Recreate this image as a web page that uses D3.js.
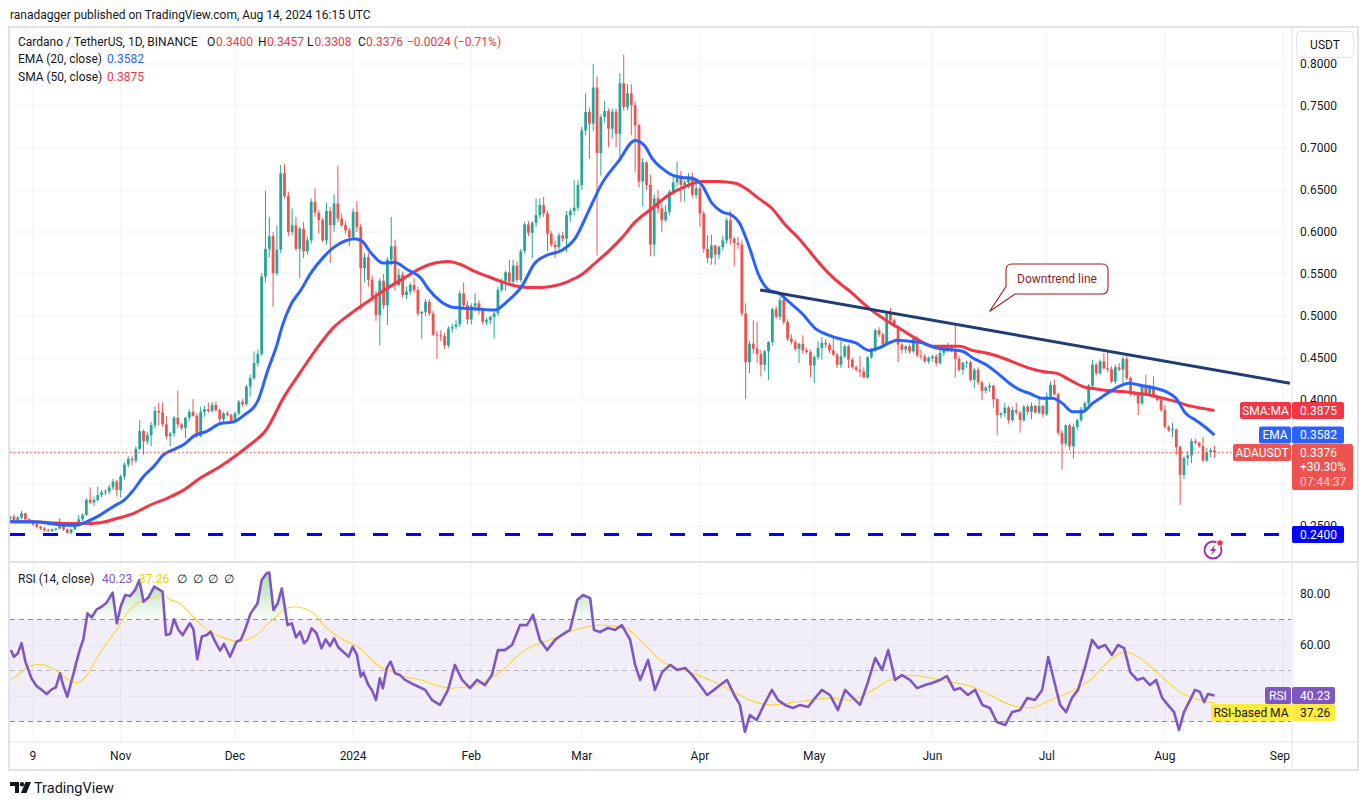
<!DOCTYPE html>
<html><head><meta charset="utf-8">
<script src="https://cdn.jsdelivr.net/npm/d3@7"></script>
<style>
html,body{margin:0;padding:0;background:#fff;overflow:hidden;}
svg{display:block;}
</style></head><body>
<svg id="c" width="1368" height="805"></svg>
<script>
// ---------------- DATA ----------------
const startDate = "2023-10-03"; // first daily candle
const opens = [
.259,.261,.257,.260,.265,.258,.256,.252,.249,.247,
.245,.244,.246,.247,.253,.246,.242,.246,.252,.258,
.263,.281,.278,.281,.287,.290,.291,.296,.303,.293,
.309,.323,.330,.328,.342,.363,.351,.358,.370,.387,
.385,.371,.357,.360,.379,.371,.367,.379,.386,.381,
.357,.386,.389,.387,.394,.388,.377,.384,.382,.375,
.384,.398,.395,.416,.426,.444,.455,.547,.580,.595,
.551,.579,.670,.643,.600,.608,.580,.604,.577,.590,
.636,.623,.614,.590,.625,.608,.634,.616,.608,.602,
.594,.624,.606,.557,.570,.543,.523,.501,.542,.513,
.567,.583,.537,.549,.525,.529,.537,.531,.503,.505,
.517,.503,.478,.477,.476,.465,.485,.487,.490,.527,
.513,.496,.512,.515,.506,.493,.495,.499,.503,.531,
.542,.552,.541,.560,.543,.577,.609,.599,.611,.620,
.632,.622,.598,.585,.582,.596,.592,.620,.625,.629,
.656,.721,.743,.729,.772,.694,.737,.744,.723,.743,
.717,.777,.749,.765,.751,.727,.660,.683,.656,.585,
.640,.628,.614,.624,.648,.659,.667,.656,.659,.666,
.644,.652,.622,.580,.569,.584,.573,.582,.590,.614,
.592,.587,.585,.503,.445,.467,.461,.455,.442,.458,
.469,.508,.499,.519,.493,.473,.469,.461,.467,.459,
.457,.441,.451,.462,.468,.466,.459,.454,.442,.452,
.464,.448,.439,.436,.434,.427,.451,.460,.483,.478,
.467,.503,.495,.487,.466,.460,.464,.458,.473,.453,
.452,.446,.450,.452,.444,.456,.463,.464,.458,.449,
.436,.444,.445,.424,.436,.421,.411,.415,.417,.401,
.382,.384,.391,.376,.388,.385,.376,.392,.386,.393,
.385,.393,.383,.404,.418,.407,.361,.348,.370,.345,
.368,.376,.389,.396,.417,.442,.432,.446,.438,.437,
.422,.439,.436,.449,.426,.408,.407,.396,.418,.408,
.415,.404,.400,.388,.368,.364,.365,.344,.311,.331,
.334,.351,.349,.345,.328,.338,.3400];
const highs = [
.263,.264,.262,.268,.266,.259,.257,.254,.250,.249,
.247,.247,.248,.259,.254,.247,.247,.254,.263,.265,
.283,.296,.285,.297,.293,.294,.299,.306,.305,.311,
.326,.333,.333,.345,.376,.365,.362,.374,.392,.397,
.397,.381,.362,.381,.411,.373,.380,.389,.401,.384,
.392,.393,.397,.398,.398,.390,.386,.387,.384,.386,
.400,.401,.418,.430,.458,.460,.551,.649,.618,.600,
.608,.680,.681,.648,.628,.618,.606,.612,.594,.640,
.652,.626,.617,.635,.630,.645,.679,.622,.613,.605,
.628,.637,.610,.575,.575,.548,.530,.545,.550,.570,
.618,.591,.556,.553,.535,.540,.545,.535,.506,.520,
.520,.506,.482,.483,.480,.488,.491,.495,.530,.540,
.518,.515,.527,.519,.510,.498,.500,.505,.535,.545,
.554,.567,.567,.565,.580,.612,.613,.613,.640,.640,
.642,.625,.601,.590,.599,.600,.625,.628,.662,.662,
.725,.765,.748,.800,.785,.740,.756,.747,.747,.747,
.789,.811,.776,.776,.755,.729,.688,.684,.668,.645,
.650,.634,.632,.650,.668,.684,.673,.662,.670,.671,
.658,.655,.625,.596,.597,.585,.584,.596,.617,.625,
.594,.594,.590,.515,.470,.495,.493,.460,.460,.470,
.510,.512,.523,.523,.496,.478,.472,.468,.477,.462,
.460,.453,.470,.475,.472,.468,.475,.456,.470,.466,
.466,.450,.441,.452,.439,.452,.462,.485,.487,.480,
.505,.510,.497,.489,.468,.465,.466,.476,.476,.460,
.455,.452,.454,.455,.460,.466,.468,.466,.491,.452,
.446,.447,.447,.438,.439,.423,.416,.420,.418,.402,
.386,.397,.393,.392,.397,.387,.394,.395,.397,.394,
.404,.394,.409,.422,.424,.409,.364,.371,.372,.372,
.378,.392,.398,.419,.448,.444,.448,.456,.458,.440,
.442,.444,.452,.452,.428,.411,.410,.419,.430,.418,
.428,.406,.402,.394,.370,.373,.366,.346,.333,.339,
.354,.354,.350,.356,.343,.343,.3457];
const lows = [
.255,.255,.255,.258,.256,.254,.250,.247,.245,.243,
.243,.243,.244,.246,.244,.241,.240,.245,.251,.256,
.262,.276,.274,.279,.284,.287,.288,.293,.285,.284,
.305,.320,.322,.325,.340,.335,.347,.345,.366,.370,
.368,.353,.345,.356,.367,.364,.355,.375,.380,.355,
.356,.380,.385,.385,.386,.373,.374,.380,.372,.374,
.382,.392,.393,.404,.424,.440,.452,.540,.570,.511,
.548,.575,.640,.595,.596,.578,.545,.569,.573,.586,
.618,.598,.588,.585,.563,.600,.612,.606,.598,.583,
.590,.600,.507,.540,.535,.518,.494,.465,.508,.489,
.560,.530,.535,.522,.520,.525,.528,.500,.473,.500,
.500,.476,.449,.470,.461,.462,.480,.484,.487,.510,
.490,.490,.505,.502,.490,.489,.490,.473,.500,.528,
.530,.538,.538,.540,.540,.574,.595,.569,.606,.616,
.618,.577,.582,.569,.578,.588,.576,.612,.620,.625,
.650,.715,.687,.720,.572,.667,.730,.701,.711,.701,
.686,.745,.745,.715,.671,.653,.630,.650,.571,.571,
.622,.600,.612,.620,.645,.655,.636,.636,.652,.641,
.640,.606,.575,.563,.561,.561,.568,.578,.586,.585,
.559,.580,.500,.401,.432,.455,.444,.428,.434,.424,
.465,.497,.495,.490,.470,.466,.458,.444,.455,.455,
.427,.420,.448,.448,.462,.456,.452,.438,.438,.450,
.438,.437,.434,.427,.426,.425,.449,.457,.475,.463,
.465,.493,.486,.445,.455,.456,.455,.456,.451,.448,
.444,.443,.446,.440,.442,.452,.457,.457,.427,.434,
.430,.438,.422,.414,.418,.400,.408,.410,.391,.358,
.378,.380,.372,.374,.383,.361,.374,.382,.377,.384,
.383,.379,.381,.402,.405,.358,.317,.345,.340,.330,
.364,.374,.386,.394,.415,.430,.430,.436,.433,.420,
.419,.434,.418,.424,.405,.405,.382,.394,.405,.404,
.402,.398,.386,.366,.362,.356,.335,.275,.306,.322,
.325,.347,.343,.326,.326,.332,.3308];
const closes = [
.261,.257,.260,.265,.258,.256,.252,.249,.247,.245,
.244,.246,.247,.253,.246,.242,.246,.252,.258,.263,
.281,.278,.281,.287,.290,.291,.296,.303,.293,.309,
.323,.330,.328,.342,.363,.351,.358,.370,.387,.385,
.371,.357,.360,.379,.371,.367,.379,.386,.381,.357,
.386,.389,.387,.394,.388,.377,.384,.382,.375,.384,
.398,.395,.416,.426,.444,.455,.547,.580,.595,.551,
.579,.670,.643,.600,.608,.580,.604,.577,.590,.636,
.623,.614,.590,.625,.608,.634,.616,.608,.602,.594,
.624,.606,.557,.570,.543,.523,.501,.542,.513,.567,
.583,.537,.549,.525,.529,.537,.531,.503,.505,.517,
.503,.478,.477,.476,.465,.485,.487,.490,.527,.513,
.496,.512,.515,.506,.493,.495,.499,.503,.531,.542,
.552,.541,.560,.543,.577,.609,.599,.611,.620,.632,
.622,.598,.585,.582,.596,.592,.620,.625,.629,.656,
.721,.743,.729,.772,.694,.737,.744,.723,.743,.717,
.777,.749,.765,.751,.727,.660,.683,.656,.585,.640,
.628,.614,.624,.648,.659,.667,.656,.659,.666,.644,
.652,.622,.580,.569,.584,.573,.582,.590,.614,.592,
.587,.585,.503,.445,.467,.461,.455,.442,.458,.469,
.508,.499,.519,.493,.473,.469,.461,.467,.459,.457,
.441,.451,.462,.468,.466,.459,.454,.442,.452,.464,
.448,.439,.436,.434,.427,.451,.460,.483,.478,.467,
.503,.495,.487,.466,.460,.464,.458,.473,.453,.452,
.446,.450,.452,.444,.456,.463,.464,.458,.449,.436,
.444,.445,.424,.436,.421,.411,.415,.417,.401,.382,
.384,.391,.376,.388,.385,.376,.392,.386,.393,.385,
.393,.383,.404,.418,.407,.361,.348,.370,.345,.368,
.376,.389,.396,.417,.442,.432,.446,.438,.437,.422,
.439,.436,.449,.426,.408,.407,.396,.418,.408,.415,
.404,.400,.388,.368,.364,.365,.344,.311,.331,.334,
.351,.349,.345,.328,.338,.340,.3376];

// EMA(20) and SMA(50) (day offset from startDate, value)
const emaDays = [0,6,10.5,15,17.5,20,23.6,27,30,32.4,35,37.7,40.3,42.9,45.6,48.2,51.7,55.2,58.7,61.4,64.9,67.5,70.1,71.4,73.6,76.3,78.9,82.4,85,87.7,90.3,92.1,94.7,97.8,100.8,104.3,107.8,109.6,113.1,116.6,120.1,123.6,127.1,130.6,134.2,137.7,141.2,144.7,148.2,151.7,155.2,159.6,164,166.6,168.4,171,173.6,176.3,178.9,181.5,184.2,186.8,189.4,191.2,193.8,196.4,199.1,201.7,204.3,207.8,211.3,214.9,218.4,221.9,225.4,228,230.6,232.8,235.9,239.4,242.9,246.4,249.9,252.6,256.1,259.6,262.2,265,267.4,270.9,273.5,276.1,278.8,281.4,284,286.6,289.3,291.9,293.6,297.1,300.6,303.3,305.9,308.5,311.1,313.8,316];
const emaValues = [.255,.255,.253,.251,.251,.255,.263,.273,.281,.293,.309,.321,.335,.341,.347,.357,.363,.372,.374,.382,.398,.434,.467,.488,.513,.531,.551,.571,.582,.589,.592,.590,.575,.563,.564,.555,.545,.533,.517,.510,.509,.508,.507,.518,.535,.563,.573,.578,.592,.624,.657,.684,.709,.702,.688,.676,.668,.665,.664,.656,.634,.624,.620,.612,.584,.549,.531,.527,.517,.503,.485,.477,.472,.468,.459,.462,.468,.471,.470,.468,.462,.460,.458,.450,.442,.430,.420,.412,.408,.402,.402,.396,.386,.386,.396,.404,.412,.418,.420,.417,.414,.410,.402,.384,.376,.367,.3582];
const smaDays = [0,6,10.5,15,19.2,23.6,28,32.4,36.8,41.2,45.6,49.9,55.2,59,63,67.1,71.9,76.3,80.7,85,89.4,93.8,98.2,102.6,107.8,111.4,114.9,118.4,121.9,125.4,128.9,132.4,135.9,139.4,142.9,146.4,149.9,153.5,157,160.5,164,168.4,172.8,177.1,181.5,185.9,190.3,192.9,196.4,199.9,203.5,207,210.5,213.1,216.6,221,225.4,229.8,234.2,238.5,242,245.6,249.1,252.6,257,260.4,263.9,267.4,270.9,274.5,278,281.5,285,288.5,292,295.5,299,302.5,306,309.5,313,316];
const smaValues = [.255,.255,.254,.253,.253,.254,.259,.265,.275,.283,.293,.307,.321,.333,.347,.364,.404,.434,.463,.487,.503,.517,.531,.543,.557,.563,.565,.561,.553,.547,.541,.536,.534,.534,.536,.541,.549,.563,.577,.593,.612,.628,.644,.654,.660,.660,.658,.652,.640,.628,.608,.592,.573,.559,.543,.527,.509,.495,.483,.471,.464,.464,.464,.459,.455,.450,.444,.438,.434,.432,.424,.416,.413,.411,.410,.408,.406,.402,.398,.393,.390,.3875];

// RSI(14) and its MA
const rsiDays = [0.2,1,2,3,4,5.6,6.9,8.3,9.6,10.9,12,13.1,13.9,15,16.2,17.3,18.3,19.2,20.3,21.4,22.7,24,25.3,26.9,28,29,30.2,31.5,32.8,33.9,35,36.3,37.8,39,40,40.9,42,43,44.2,45.3,46.3,47.2,48.1,49.1,50.3,51.6,52.6,53.8,55.1,56.1,57.7,59.4,60.5,61.6,63.1,64.9,66,67.3,68,69.1,70.2,71.3,72.8,73.9,75,76.1,77.1,78,79.1,80.4,81.7,82.8,83.9,85,86.1,87.9,88.8,89.9,91,92,92.7,94,94.9,96,97,97.8,98.8,99.8,101,102.3,103.6,106.2,108.9,110.7,112.8,114.9,116.7,118.6,120.7,122.5,124.6,126.4,128,129.8,131.7,133.8,135.6,137.2,139,140.9,143,144.8,146.9,148.8,150.3,152.2,153.2,154.8,156.9,158.7,160.5,162.7,164,165.3,167.4,169.2,171.1,173.2,175,177.1,179,181,182.9,184.7,186.3,188.1,190,191.5,192.8,194.1,195.9,197.8,199.9,201.5,203.3,205.4,207.3,209.4,211.2,213,215.1,217.2,219.1,221.2,223,225.1,227,228.8,230.4,232.2,234,236.1,238,240.1,241.9,244,245.8,247.7,249.3,251.3,253.2,255.1,257.1,258.9,261.1,262.9,265,266.9,268.9,270.8,272.4,274.2,275.5,277.1,278.6,280.2,282,283.9,285.5,287.3,289.1,290.7,292.3,293.9,295.7,297.3,299.1,300.7,302.3,303.8,305.4,306.7,308,309.6,310.9,312.2,313.3,314.3,316];
const rsiValues = [58.0,55.4,56.7,60.7,53.5,46.9,43.9,42.4,40.8,42.6,43.4,48.9,44.3,39.7,46.3,52.8,58.3,62.2,72.4,70.8,74,75,76.6,80.5,68.5,75,79.6,79.2,81.6,85.5,77,78.7,82.9,81.8,80.9,63.9,64.3,70.1,65.9,63.9,66.5,68.5,66.1,54.4,63.3,63.9,65.2,61.3,57.8,60.4,55.4,61.3,62,65.9,72.4,76.3,85.5,88.1,88.4,73.7,76.3,82.2,67.8,68.5,63,65.2,60.7,62,66.5,64.6,58.7,62.2,59.6,62.6,59.1,56.7,55.4,59.3,56.1,47.6,49.2,44.3,42.4,38.4,46.9,43,50.8,53.5,48.9,48.2,46.3,44.3,42.4,38.4,36.5,42.4,52.2,46.3,43.1,46.3,44.3,48.2,58,58,60,67.8,67.8,71.8,62,58,62,64,65.9,77.6,79.6,78.4,65.9,65.1,66.7,65.9,67.8,62,52.2,46.3,54.1,42.4,49.4,52.2,50.2,51,48.2,44.3,40.4,42.4,44.3,46.3,40.4,36.5,25.9,32.5,30.6,36.5,42.4,38.4,36.5,35.3,36.5,35.7,39.2,42.4,40.4,34.5,42.4,39.2,36.5,45.5,54.9,50.2,58,46.3,48.2,46.3,43.1,44.3,45.1,46.3,47.8,42.4,43.1,40.4,42.4,36.5,35.3,29.8,28.6,33.7,34.5,39.2,38.4,42.4,55.3,44.3,36.5,33.7,39.2,42.4,51,62,58.8,60,56.1,60,58.8,49.4,46.3,47.1,44.3,46.3,39.2,36.5,33.7,26.7,33.7,38.4,42.4,41.6,37.6,40.8,40.23];
const rsiMaDays = [0.2,2.6,5.2,7.8,10.5,13.1,15.7,17.5,20.2,22.7,25.3,28,30.6,33.2,35.8,38.5,40.2,41.9,44.6,47.2,49.8,52.5,55.1,57.7,60.3,62.1,64.7,67.3,70,72.6,75.2,77,79.6,82.2,84.8,87.4,90,92.7,95.3,97.9,100.6,102.3,107.6,115.5,122,128.6,135.1,141.7,148.2,154.8,161.3,165.3,170.5,178.4,183.6,188.9,194.1,199.4,204.6,209.9,215.1,220.4,225.6,230.9,236.1,241.4,246.6,251.9,257.1,262.4,267.6,272.9,278.1,283.4,288.6,292.6,296.5,301.7,307,312.2,316];
const rsiMaValues = [46.3,48.9,51.8,52.4,51.2,48.9,46,45.2,48.2,54.8,60.7,65.9,72.4,76.3,77.9,79,79.6,77.9,76.3,72.4,68.5,65.2,63.3,62,61.3,62,63.9,67.8,71.4,74.4,75,74.4,72.4,67.8,64.6,62,60.4,57.4,53.5,50.8,49.5,48.2,46.3,43.1,44.3,49.4,58,62,65.9,67.8,66.7,62,54.1,49.4,46.3,42.4,38.4,36.5,37.3,38.4,39.2,38.4,41.6,46.3,48.2,47.1,45.5,43.9,40.4,36.5,35.3,38.4,41.6,46.3,54.1,57.3,54.9,48.2,41.6,38.4,37.26];

// annotations
const trendDays = [196.8, 335.8];
const trendPrices = [0.531, 0.420];
const supportPrice = 0.24;
const priceTicks = [0.80,0.75,0.70,0.65,0.60,0.55,0.50,0.45,0.40,0.35,0.30,0.25];
const hiddenPriceLabels = [0.35, 0.30]; // fully covered by the price tags in the original
const rsiTicks = [80,60,40];
const rsiLabelTicks = [80,60];
const rsiLevels = [70,50,30];
const tickDates = ["2023-10-09","2023-11-01","2023-12-01","2024-01-01","2024-02-01","2024-03-01","2024-04-01","2024-05-01","2024-06-01","2024-07-01","2024-08-01","2024-09-01"];
const tickLabels = ["9","Nov","Dec","2024","Feb","Mar","Apr","May","Jun","Jul","Aug","Sep"];
const lastEma = 0.3582, lastSma = 0.3875, lastRsi = 40.23, lastRsiMa = 37.26;

// ---------------- DRAW ----------------
const FONT = "Roboto, 'Noto Sans', Arial, sans-serif";
const TXT = "#131722", UP = "#26a69a", DN = "#ef5350", GRID = "#f0f3fa", BORDER = "#e0e3eb";
const svg = d3.select("#c").style("font-family", FONT);
const x = d3.scaleLinear().domain([-0.034, 335.83]).range([10, 1290]);
const y = d3.scaleLinear().domain([0.25, 0.80]).range([526, 64]);
const ry = d3.scaleLinear().domain([30, 80]).range([721.5, 594]);
const PL = 10, PR = 1291, MT = 28, MB = 561, RT = 563, RB = 741, AB = 770, FR = 1357;

svg.append("rect").attr("width", 1368).attr("height", 805).attr("fill", "#fff");
const defs = svg.append("defs");
const clip = (id, x0, y0, w, h) => defs.append("clipPath").attr("id", id).append("rect").attr("x", x0).attr("y", y0).attr("width", w).attr("height", h);
clip("cm", PL, MT, PR - PL, MB - MT);
clip("cr", PL, RT, PR - PL, RB - RT);
clip("cob", PL, RT, PR - PL, ry(70) - RT);
clip("cos", PL, ry(30), PR - PL, RB - ry(30));
// price-axis labels are visible only where no price tag covers them
const cax = defs.append("clipPath").attr("id", "cax");
cax.append("rect").attr("x", 1293).attr("y", 59).attr("width", 64).attr("height", y(lastSma) - 8.5 - 59);
cax.append("rect").attr("x", 1293).attr("y", y(0.3376) + 37.5).attr("width", 64).attr("height", y(supportPrice) - 8.5 - (y(0.3376) + 37.5));
const gOB = defs.append("linearGradient").attr("id", "gob").attr("gradientUnits", "userSpaceOnUse").attr("x1", 0).attr("x2", 0).attr("y1", ry(90)).attr("y2", ry(70));
gOB.append("stop").attr("offset", 0).attr("stop-color", "rgb(76,175,80)").attr("stop-opacity", 0.5);
gOB.append("stop").attr("offset", 1).attr("stop-color", "rgb(76,175,80)").attr("stop-opacity", 0.02);
const gOS = defs.append("linearGradient").attr("id", "gos").attr("gradientUnits", "userSpaceOnUse").attr("x1", 0).attr("x2", 0).attr("y1", ry(30)).attr("y2", ry(10));
gOS.append("stop").attr("offset", 0).attr("stop-color", "rgb(242,54,69)").attr("stop-opacity", 0.02);
gOS.append("stop").attr("offset", 1).attr("stop-color", "rgb(242,54,69)").attr("stop-opacity", 0.5);

// header
svg.append("text").attr("x", 10).attr("y", 19).attr("font-size", 12).attr("fill", TXT)
  .text("ranadagger published on TradingView.com, Aug 14, 2024 16:15 UTC");

// grid
const t0 = new Date(startDate + "T00:00:00Z");
const tickDays = tickDates.map(s => d3.utcDay.count(t0, new Date(s + "T00:00:00Z")));
const grid = svg.append("g");
grid.selectAll("line.v").data(tickDays).join("line")
  .attr("x1", d => x(d)).attr("x2", d => x(d)).attr("y1", MT).attr("y2", RB).attr("stroke", GRID);
grid.selectAll("line.h").data(priceTicks).join("line")
  .attr("x1", PL).attr("x2", PR).attr("y1", d => y(d)).attr("y2", d => y(d)).attr("stroke", GRID);
grid.selectAll("line.r").data(rsiTicks).join("line")
  .attr("x1", PL).attr("x2", PR).attr("y1", d => ry(d)).attr("y2", d => ry(d)).attr("stroke", GRID);

// frame and separators
svg.append("rect").attr("x", 9).attr("y", 27).attr("width", FR - 9 + 1).attr("height", AB - 27)
  .attr("fill", "none").attr("stroke", BORDER).attr("stroke-width", 2);
svg.append("line").attr("x1", 1292).attr("x2", 1292).attr("y1", 27).attr("y2", AB).attr("stroke", BORDER);
svg.append("line").attr("x1", 9).attr("x2", FR + 1).attr("y1", 562).attr("y2", 562).attr("stroke", BORDER).attr("stroke-width", 2);
svg.append("line").attr("x1", 9).attr("x2", FR + 1).attr("y1", 742).attr("y2", 742).attr("stroke", BORDER);

// ---- main pane ----
const gm = svg.append("g").attr("clip-path", "url(#cm)");
const candles = closes.map((c, i) => ({ i, o: opens[i], h: highs[i], l: lows[i], c }));
const col = d => d.c >= d.o ? UP : DN;
gm.selectAll("line.w").data(candles).join("line")
  .attr("x1", d => x(d.i)).attr("x2", d => x(d.i))
  .attr("y1", d => y(d.h)).attr("y2", d => y(d.l))
  .attr("stroke", col).attr("stroke-width", 1);
gm.selectAll("rect.b").data(candles).join("rect")
  .attr("x", d => x(d.i) - 1.4).attr("width", 2.8)
  .attr("y", d => y(Math.max(d.o, d.c)))
  .attr("height", d => Math.max(1, Math.abs(y(d.o) - y(d.c))))
  .attr("fill", col);

const lineXY = (days, vals, ys) => d3.line().curve(d3.curveMonotoneX).x((d, i) => x(days[i])).y((d, i) => ys(vals[i]))(vals);
gm.append("path").attr("d", lineXY(smaDays, smaValues, y)).attr("fill", "none").attr("stroke", "#f23645").attr("stroke-width", 3).attr("stroke-linejoin", "round");
gm.append("path").attr("d", lineXY(emaDays, emaValues, y)).attr("fill", "none").attr("stroke", "#2962ff").attr("stroke-width", 3).attr("stroke-linejoin", "round");

// last price dotted line
const lastPrice = closes[closes.length - 1];
gm.append("line").attr("x1", PL).attr("x2", 1232).attr("y1", y(lastPrice)).attr("y2", y(lastPrice))
  .attr("stroke", DN).attr("stroke-width", 1).attr("stroke-dasharray", "1.5,2.5");
// support dashed line
gm.append("line").attr("x1", PL).attr("x2", 1290).attr("y1", y(supportPrice)).attr("y2", y(supportPrice))
  .attr("stroke", "#0000ff").attr("stroke-width", 3).attr("stroke-dasharray", "15,18");
// downtrend line
gm.append("line").attr("x1", x(trendDays[0])).attr("y1", y(trendPrices[0]))
  .attr("x2", x(trendDays[1])).attr("y2", y(trendPrices[1]))
  .attr("stroke", "#1f3c73").attr("stroke-width", 3);

// callout
const cg = svg.append("g");
cg.append("path").attr("d", "M1012,264 H1102 Q1108,264 1108,270 V288 Q1108,294 1102,294 H1015 L989.5,311.5 L1006,286.5 V270 Q1006,264 1012,264 Z")
  .attr("fill", "#fff").attr("stroke", "#a11d1d").attr("stroke-width", 1.1);
cg.append("text").attr("x", 1057).attr("y", 283).attr("text-anchor", "middle").attr("font-size", 12).attr("fill", "#8e1c1c").text("Downtrend line");

// lightning icon
const ic = svg.append("g");
ic.append("circle").attr("cx", 1213).attr("cy", 550).attr("r", 8.5).attr("fill", "#fff").attr("stroke", "#9c27b0").attr("stroke-width", 1.8);
ic.append("path").attr("d", "M1215,544.5 L1210,551 L1213,551 L1211,555.5 L1216.5,549 L1213.5,549 Z").attr("fill", "#9c27b0");
ic.append("circle").attr("cx", 1220).attr("cy", 543).attr("r", 3.3).attr("fill", "#f23645").attr("stroke", "#fff").attr("stroke-width", 1);

// ---- RSI pane ----
const gr = svg.append("g").attr("clip-path", "url(#cr)");
gr.append("rect").attr("x", PL).attr("width", PR - PL).attr("y", ry(70)).attr("height", ry(30) - ry(70)).attr("fill", "rgba(126,87,194,0.1)");
gr.selectAll("line.lv").data(rsiLevels).join("line")
  .attr("x1", PL).attr("x2", PR).attr("y1", d => ry(d)).attr("y2", d => ry(d))
  .attr("stroke", "#787b86").attr("stroke-opacity", d => d === 50 ? 0.5 : 0.85)
  .attr("stroke-dasharray", "5,4");
const rsiPts = rsiValues.map((v, i) => ({ d: rsiDays[i], v }));
gr.append("path").attr("clip-path", "url(#cob)")
  .attr("d", d3.area().x(p => x(p.d)).y0(ry(70)).y1(p => ry(p.v))(rsiPts)).attr("fill", "url(#gob)");
gr.append("path").attr("clip-path", "url(#cos)")
  .attr("d", d3.area().x(p => x(p.d)).y0(ry(30)).y1(p => ry(p.v))(rsiPts)).attr("fill", "url(#gos)");
gr.append("path").attr("d", lineXY(rsiMaDays, rsiMaValues, ry)).attr("fill", "none").attr("stroke", "#fdd835").attr("stroke-width", 1.2);
gr.append("path").attr("d", d3.line().x(p => x(p.d)).y(p => ry(p.v))(rsiPts)).attr("fill", "none")
  .attr("stroke", "#7e57c2").attr("stroke-width", 2.6).attr("stroke-linejoin", "round");

// ---- legends ----
const leg = (xx, yy, s, c, fs) => svg.append("text").attr("x", xx).attr("y", yy).attr("font-size", fs || 12).attr("fill", c || TXT).text(s);
leg(18, 46, "Cardano / TetherUS, 1D, BINANCE");
const R = "#f23645";
leg(207, 46, "O"); leg(216, 46, opens[opens.length - 1].toFixed(4), R);
leg(258, 46, "H"); leg(267, 46, highs[highs.length - 1].toFixed(4), R);
leg(307, 46, "L"); leg(314.5, 46, lows[lows.length - 1].toFixed(4), R);
leg(358, 46, "C"); leg(366, 46, lastPrice.toFixed(4), R);
leg(407, 46, "\u22120.0024 (\u22120.71%)", R);
leg(18, 63, "EMA (20, close)"); leg(107, 63, lastEma.toFixed(4), "#2962ff");
leg(18, 81, "SMA (50, close)"); leg(107, 81, lastSma.toFixed(4), R);
leg(18, 583, "RSI (14, close)"); leg(102, 583, lastRsi.toFixed(2), "#7e57c2"); leg(139, 583, lastRsiMa.toFixed(2), "#f5d000");
[177, 192.5, 208, 223.5].forEach(xx => leg(xx, 583, "\u2205"));

// ---- right axis ----
const ax = svg.append("g").attr("font-size", 12).attr("fill", TXT);
ax.append("g").attr("clip-path", "url(#cax)").selectAll("text.p")
  .data(priceTicks.filter(v => !hiddenPriceLabels.includes(v))).join("text")
  .attr("x", 1300).attr("y", d => y(d)).attr("dy", "0.36em").text(d => d.toFixed(4));
ax.selectAll("text.r").data(rsiLabelTicks).join("text").attr("x", 1300).attr("y", d => ry(d)).attr("dy", "0.36em").text(d => d.toFixed(2));

// USDT button
svg.append("rect").attr("x", 1296.5).attr("y", 31.5).attr("width", 57).attr("height", 26).attr("rx", 4).attr("fill", "#fff").attr("stroke", BORDER);
svg.append("text").attr("x", 1325).attr("y", 45).attr("dy", "0.36em").attr("text-anchor", "middle").attr("font-size", 12).attr("fill", TXT).text("USDT");

// price labels
function tag(yc, name, value, bg, fg, nameW, valW, h) {
  const g = svg.append("g").attr("font-size", 12);
  h = h || 17;
  if (name) {
    g.append("rect").attr("x", 1291 - nameW).attr("y", yc - 8.5).attr("width", nameW).attr("height", 17).attr("rx", 2).attr("fill", bg);
    g.append("text").attr("x", 1291 - nameW / 2).attr("y", yc).attr("dy", "0.36em").attr("text-anchor", "middle").attr("fill", fg).text(name);
  }
  g.append("rect").attr("x", 1292).attr("y", yc - 8.5).attr("width", valW).attr("height", h).attr("rx", 2).attr("fill", bg);
  g.append("text").attr("x", 1300).attr("y", yc).attr("dy", "0.36em").attr("fill", fg).text(value);
  return g;
}
tag(y(lastSma), "SMA:MA", lastSma.toFixed(4), "#f23645", "#fff", 51, 52);
tag(y(lastEma), "EMA", lastEma.toFixed(4), "#2962ff", "#fff", 32, 52);
const gl = tag(y(lastPrice), "ADAUSDT", lastPrice.toFixed(4), "#ef5350", "#fff", 58, 61, 46);
gl.append("text").attr("x", 1300).attr("y", y(lastPrice) + 14.5).attr("dy", "0.36em").attr("fill", "#fff").text("+30.30%");
gl.append("text").attr("x", 1300).attr("y", y(lastPrice) + 29).attr("dy", "0.36em").attr("fill", "rgba(255,255,255,0.75)").text("07:44:37");
tag(y(supportPrice), null, supportPrice.toFixed(4), "#0000ff", "#fff", 0, 52);
const yR = ry(lastRsi);
tag(yR, "RSI", lastRsi.toFixed(2), "#7e57c2", "#fff", 26, 43);
tag(Math.max(ry(lastRsiMa), yR + 17), "RSI-based MA", lastRsiMa.toFixed(2), "#ffeb3b", TXT, 80, 43);

// time axis
const ta = svg.append("g").attr("font-size", 12).attr("fill", TXT);
tickDays.forEach((d, i) => {
  const t = ta.append("text").attr("x", x(d)).attr("y", 760).attr("text-anchor", "middle").text(tickLabels[i]);
  const w = t.node().getComputedTextLength();
  if (x(d) + w / 2 > 1290) t.attr("x", 1290 - w / 2);
});

// TradingView logo
const lg = svg.append("g").attr("fill", TXT);
lg.append("path").attr("d", "M10,782 H19 V793 H15 V786 H10 Z");
lg.append("circle").attr("cx", 22).attr("cy", 784.2).attr("r", 2.2);
lg.append("path").attr("d", "M25.5,782 H31 L26.5,793 H21 Z");
lg.append("text").attr("x", 34).attr("y", 792.5).attr("font-size", 14.5).text("TradingView");
</script></body></html>
